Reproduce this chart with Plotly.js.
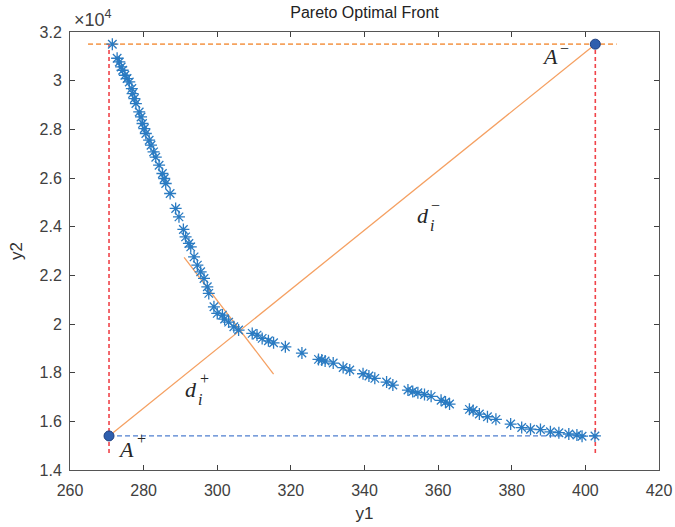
<!DOCTYPE html>
<html>
<head>
<meta charset="utf-8">
<script src="https://cdn.plot.ly/plotly-3.0.1.min.js"></script>
<style>html,body{margin:0;padding:0;background:#fff;}#chart{width:675px;height:527px;}</style>
</head>
<body>
<div id="chart"></div>
<script>
// Pareto front points (y1, y2)
const frontY1 = [271.5, 272.8, 273.4, 273.9, 274.3, 274.9, 275.5, 276.1, 276.8, 277.0,
  277.5, 277.9, 278.8, 279.3, 279.7, 280.2, 280.6, 281.5, 282.0, 282.7,
  283.3, 284.2, 285.1, 285.6, 286.0, 287.2, 288.7, 289.6, 290.8, 291.4,
  292.3, 292.8, 293.7, 294.6, 295.5, 296.4, 297.3, 297.7, 299.1, 300.0,
  301.4, 302.0, 303.1, 304.5, 305.8, 309.5, 310.8, 312.2, 313.9, 315.3,
  318.5, 323.0, 327.5, 328.4, 329.3, 331.5, 334.2, 336.0, 339.6, 341.2,
  342.8, 346.0, 347.7, 351.8, 353.1, 354.5, 356.3, 358.1, 360.8, 362.0,
  363.1, 368.5, 369.5, 371.2, 373.4, 375.7, 379.7, 382.7, 385.1, 387.8,
  390.5, 392.8, 395.5, 397.7, 399.1, 402.6];
const frontY2 = [31500, 30921, 30769, 30564, 30428, 30223, 30087, 29948, 29676, 29471,
  29266, 29060, 28715, 28510, 28239, 28033, 27828, 27553, 27348, 27073,
  26855, 26526, 26185, 25980, 25775, 25364, 24748, 24403, 23885, 23582,
  23311, 23171, 22760, 22419, 22144, 21873, 21528, 21257, 20707, 20436,
  20366, 20202, 20078, 19885, 19750, 19614, 19544, 19409, 19310, 19228,
  19064, 18805, 18546, 18518, 18477, 18394, 18210, 18107, 17955, 17861,
  17766, 17614, 17491, 17286, 17224, 17175, 17101, 17027, 16863, 16793,
  16711, 16493, 16444, 16300, 16189, 16082, 15889, 15745, 15676, 15663,
  15569, 15532, 15479, 15437, 15390, 15400];

// Ideal (A+) and anti-ideal (A-) points
const idealPoint = [270.6, 15400];
const antiIdealPoint = [402.7, 31500];

// Guide line extents
const verticalGuideY = [14700, 31500];
const topGuideX = [264.9, 408.5];
const bottomGuideX = [270.6, 403.5];
const perpLineX = [291.0, 315.3];
const perpLineY = [22735, 17943];

// Axis ticks
const xTicks = [260, 280, 300, 320, 340, 360, 380, 400, 420];
const yTickVals = [14000, 16000, 18000, 20000, 22000, 24000, 26000, 28000, 30000, 32000];
const yTickText = ['1.4', '1.6', '1.8', '2', '2.2', '2.4', '2.6', '2.8', '3', '3.2'];

const redDash = {color: '#F0444A', width: 1.6, dash: '4px,3px'};
const traces = [
  {x: [idealPoint[0], idealPoint[0]], y: verticalGuideY, mode: 'lines', line: redDash, hoverinfo: 'skip'},
  {x: [antiIdealPoint[0], antiIdealPoint[0]], y: verticalGuideY, mode: 'lines', line: redDash, hoverinfo: 'skip'},
  {x: topGuideX, y: [antiIdealPoint[1], antiIdealPoint[1]], mode: 'lines',
   line: {color: '#F5A25E', width: 1.6, dash: '5px,3px'}, hoverinfo: 'skip'},
  {x: bottomGuideX, y: [idealPoint[1], idealPoint[1]], mode: 'lines',
   line: {color: '#4F7FD0', width: 1.3, dash: '5px,3px'}, hoverinfo: 'skip'},
  {x: [idealPoint[0], antiIdealPoint[0]], y: [idealPoint[1], antiIdealPoint[1]], mode: 'lines',
   line: {color: '#F5A062', width: 1.3}, hoverinfo: 'skip'},
  {x: perpLineX, y: perpLineY, mode: 'lines', line: {color: '#F5A062', width: 1.3}, hoverinfo: 'skip'},
  {x: frontY1, y: frontY2, mode: 'markers',
   marker: {symbol: 'asterisk-open', size: 10, color: '#2A7BC2', line: {color: '#2A7BC2', width: 1.3}}},
  {x: [idealPoint[0], antiIdealPoint[0]], y: [idealPoint[1], antiIdealPoint[1]], mode: 'markers',
   marker: {symbol: 'circle', size: 10, color: '#2F5FAE', line: {color: '#1F3F80', width: 1}}}
];

const serif = {family: 'Liberation Serif, DejaVu Serif, serif', size: 22, color: '#262626'};
const small = {family: 'Liberation Serif, DejaVu Serif, serif', size: 16, color: '#262626'};
const axFont = {family: 'Liberation Sans, Arial, sans-serif', size: 16, color: '#404040'};

const layout = {
  width: 675, height: 527,
  margin: {l: 70, r: 16, t: 32, b: 57},
  paper_bgcolor: '#fff', plot_bgcolor: '#fff',
  showlegend: false,
  title: {text: 'Pareto Optimal Front', font: {family: 'Liberation Sans, Arial, sans-serif', size: 16, color: '#222'},
          x: 0.54, xanchor: 'center', y: 0.977, yanchor: 'middle'},
  xaxis: {range: [260, 420], tickvals: xTicks, ticks: 'inside', ticklen: 5, tickcolor: '#404040',
          showline: true, linecolor: '#555', linewidth: 1, mirror: 'ticks', showgrid: false, zeroline: false,
          tickfont: axFont, ticklabelstandoff: 6,
          title: {text: 'y1', font: {family: 'Liberation Sans, Arial, sans-serif', size: 17, color: '#333'}, standoff: 8}},
  yaxis: {range: [14000, 32000], tickvals: yTickVals, ticktext: yTickText, ticks: 'inside', ticklen: 5, tickcolor: '#404040',
          showline: true, linecolor: '#555', linewidth: 1, mirror: 'ticks', showgrid: false, zeroline: false,
          tickfont: axFont, ticklabelstandoff: 4,
          title: {text: 'y2', font: {family: 'Liberation Sans, Arial, sans-serif', size: 17, color: '#333'}, standoff: 12}},
  annotations: [
    {x: 0.003, y: 1.03, xref: 'paper', yref: 'paper', text: '×10<sup>4</sup>', showarrow: false, xanchor: 'left', yanchor: 'middle',
     font: {family: 'Liberation Sans, Arial, sans-serif', size: 18, color: '#404040'}},
    {x: 390.5, y: 31000, xref: 'x', yref: 'y', text: '<i>A</i>', showarrow: false, font: serif},
    {x: 394.4, y: 31330, xref: 'x', yref: 'y', text: '−', showarrow: false, font: small},
    {x: 275.2, y: 14860, xref: 'x', yref: 'y', text: '<i>A</i>', showarrow: false, font: serif},
    {x: 279.4, y: 15280, xref: 'x', yref: 'y', text: '+', showarrow: false, font: small},
    {x: 356.0, y: 24450, xref: 'x', yref: 'y', text: '<i>d</i>', showarrow: false, font: serif},
    {x: 358.3, y: 24050, xref: 'x', yref: 'y', text: '<i>i</i>', showarrow: false, font: small},
    {x: 359.4, y: 24880, xref: 'x', yref: 'y', text: '−', showarrow: false, font: small},
    {x: 292.9, y: 17290, xref: 'x', yref: 'y', text: '<i>d</i>', showarrow: false, font: serif},
    {x: 295.2, y: 16890, xref: 'x', yref: 'y', text: '<i>i</i>', showarrow: false, font: small},
    {x: 296.4, y: 17740, xref: 'x', yref: 'y', text: '+', showarrow: false, font: small}
  ]
};

Plotly.newPlot('chart', traces, layout, {staticPlot: true, displayModeBar: false});
</script>
</body>
</html>
